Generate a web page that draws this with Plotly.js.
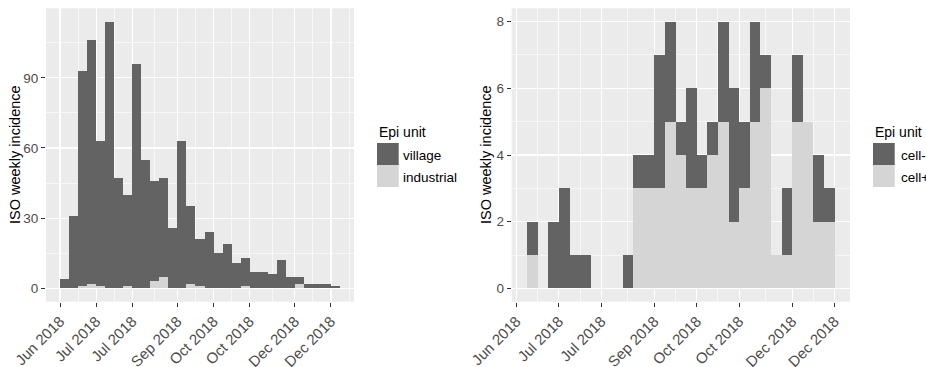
<!DOCTYPE html>
<html>
<head>
<meta charset="utf-8">
<script src="https://cdn.plot.ly/plotly-3.0.1.min.js"></script>
<style>
  html, body { margin: 0; padding: 0; background: #ffffff; }
  #chart { width: 926px; height: 367px; }
</style>
</head>
<body>
<div id="chart"></div>
<script>
// ---- Left panel: weekly incidence by epi unit (village / industrial) ----
const weeksA = [
  "2018-06-04","2018-06-11","2018-06-18","2018-06-25",
  "2018-07-02","2018-07-09","2018-07-16","2018-07-23","2018-07-30",
  "2018-08-06","2018-08-13","2018-08-20","2018-08-27",
  "2018-09-03","2018-09-10","2018-09-17","2018-09-24",
  "2018-10-01","2018-10-08","2018-10-15","2018-10-22","2018-10-29",
  "2018-11-05","2018-11-12","2018-11-19","2018-11-26",
  "2018-12-03","2018-12-10","2018-12-17","2018-12-24","2018-12-31"
];
const village    = [4,31,92,104,62,114,47,39,96,55,43,42,26,63,33,20,24,15,19,11,12,7,7,6,12,5,3,2,2,2,1];
const industrial = [0,0,1,2,1,0,0,1,0,0,3,5,0,0,2,1,0,0,0,0,1,0,0,0,0,0,2,0,0,0,0];

// ---- Right panel: weekly incidence by epi unit (cell- / cell+) ----
const weeksB = [
  "2018-06-11","2018-06-18","2018-06-25",
  "2018-07-02","2018-07-09","2018-07-16","2018-07-23","2018-07-30",
  "2018-08-06","2018-08-13","2018-08-20","2018-08-27",
  "2018-09-03","2018-09-10","2018-09-17","2018-09-24",
  "2018-10-01","2018-10-08","2018-10-15","2018-10-22","2018-10-29",
  "2018-11-05","2018-11-12","2018-11-19","2018-11-26",
  "2018-12-03","2018-12-10","2018-12-17","2018-12-24"
];
const cellNeg = [1,0,2,3,1,1,0,0,0,1,1,1,4,3,1,3,1,1,3,4,2,3,1,0,2,2,0,2,1];
const cellPos = [1,0,0,0,0,0,0,0,0,0,3,3,3,5,4,3,3,4,5,2,3,5,6,1,1,5,5,2,2];

// ---- Axis breaks and labels ----
const tickDates  = ["2018-06-04","2018-07-02","2018-07-30","2018-09-03","2018-10-01","2018-10-29","2018-12-03","2018-12-31"];
const tickLabels = ["Jun 2018","Jul 2018","Jul 2018","Sep 2018","Oct 2018","Oct 2018","Dec 2018","Dec 2018"];
const yTicksA = [0, 30, 60, 90];
const yTicksB = [0, 2, 4, 6, 8];

const legendTitle = "Epi unit";
const yTitle = "ISO weekly incidence";

// ---- Style ----
const DARK = "#636363";
const LIGHT = "#D5D5D5";
const PANEL = "#EBEBEB";
const FONT = "Liberation Sans, Arial, sans-serif";
const DAY = 86400000;
const W = 926, H = 367;

const t = s => new Date(s + "T00:00:00Z").getTime();
const iso = ms => new Date(ms).toISOString().slice(0, 19).replace("T", " ");

// Range with 5% padding on each side, as a ggplot continuous scale
function padRange(lo, hi) {
  const e = (hi - lo) * 0.05;
  return [lo - e, hi + e];
}
function dateRange(weeks) {
  const r = padRange(t(weeks[0]), t(weeks[weeks.length - 1]) + 7 * DAY);
  return [iso(r[0]), iso(r[1])];
}
// Minor breaks halfway between major breaks (plus one step beyond each end)
function minorDates(dates) {
  const ms = dates.map(t);
  const out = [];
  out.push(ms[0] - (ms[1] - ms[0]) / 2);
  for (let i = 0; i < ms.length - 1; i++) out.push((ms[i] + ms[i + 1]) / 2);
  const n = ms.length;
  out.push(ms[n - 1] + (ms[n - 1] - ms[n - 2]) / 2);
  return out.map(iso);
}
function minorNums(vals) {
  const out = [];
  for (let i = 0; i < vals.length - 1; i++) out.push((vals[i] + vals[i + 1]) / 2);
  out.push(vals[vals.length - 1] + (vals[1] - vals[0]) / 2);
  return out;
}

const barCommon = { type: "bar", width: 7 * DAY, offset: 0, hoverinfo: "skip" };

const data = [
  Object.assign({}, barCommon, { x: weeksA, y: industrial, xaxis: "x", yaxis: "y", marker: { color: LIGHT, line: { width: 0 } }, name: "industrial" }),
  Object.assign({}, barCommon, { x: weeksA, y: village, xaxis: "x", yaxis: "y", marker: { color: DARK, line: { width: 0 } }, name: "village" }),
  Object.assign({}, barCommon, { x: weeksB, y: cellPos, xaxis: "x2", yaxis: "y2", marker: { color: LIGHT, line: { width: 0 } }, name: "cell+" }),
  Object.assign({}, barCommon, { x: weeksB, y: cellNeg, xaxis: "x2", yaxis: "y2", marker: { color: DARK, line: { width: 0 } }, name: "cell-" })
];

const tickFontX = { family: FONT, size: 15, color: "#4D4D4D" };
const tickFontY = { family: FONT, size: 13.5, color: "#4D4D4D" };
const gridMinor = (vals) => ({ tickmode: "array", tickvals: vals, showgrid: true, gridcolor: "#FFFFFF", gridwidth: 0.6, ticks: "" });

function xAxis(domain, anchor, weeks) {
  return {
    domain: domain, anchor: anchor, type: "date",
    range: dateRange(weeks),
    tickmode: "array", tickvals: tickDates, ticktext: tickLabels, tickangle: -45,
    ticks: "outside", ticklen: 4, tickwidth: 1, tickcolor: "#333333",
    tickfont: tickFontX,
    showgrid: true, gridcolor: "#FFFFFF", gridwidth: 1.2,
    minor: gridMinor(minorDates(tickDates)),
    showline: false, zeroline: false, fixedrange: true
  };
}
function yAxis(domain, anchor, maxVal, ticks) {
  return {
    domain: domain, anchor: anchor,
    range: padRange(0, maxVal),
    tickmode: "array", tickvals: ticks,
    ticks: "outside", ticklen: 4, tickwidth: 1, tickcolor: "#333333",
    tickfont: tickFontY,
    showgrid: true, gridcolor: "#FFFFFF", gridwidth: 1.2,
    minor: gridMinor(minorNums(ticks)),
    showline: false, zeroline: false, fixedrange: true
  };
}

const totalsA = village.map((v, i) => v + industrial[i]);
const totalsB = cellNeg.map((v, i) => v + cellPos[i]);

const px = x => x / W;
const py = y => 1 - y / H;
const yDom = [py(301.7), py(8.3)];

// Legend (title, keys, labels) for one panel
function legendParts(x0, labelX, items) {
  const shapes = [], ann = [];
  ann.push({ xref: "paper", yref: "paper", x: px(x0), y: py(132), xanchor: "left", yanchor: "middle",
             text: legendTitle, showarrow: false, font: { family: FONT, size: 14, color: "#000000" } });
  items.forEach((it, i) => {
    const top = 143 + i * 22;
    shapes.push({ type: "rect", xref: "paper", yref: "paper", x0: px(x0), x1: px(x0 + 21.7),
                  y0: py(top + 22), y1: py(top), fillcolor: it.color, line: { width: 0 } });
    ann.push({ xref: "paper", yref: "paper", x: px(labelX), y: py(top + 12), xanchor: "left", yanchor: "middle",
               text: it.label, showarrow: false, font: { family: FONT, size: 13.5, color: "#000000" } });
  });
  return { shapes, ann };
}
const legA = legendParts(377, 401, [{ label: "village", color: DARK }, { label: "industrial", color: LIGHT }]);
const legB = legendParts(873, 899, [{ label: "cell-", color: DARK }, { label: "cell+", color: LIGHT }]);

const titleAnn = (x) => ({ xref: "paper", yref: "paper", x: px(x), y: py(155), xanchor: "center", yanchor: "middle",
  text: yTitle, textangle: -90, showarrow: false, font: { family: FONT, size: 14.5, color: "#000000" } });

const layout = {
  width: W, height: H,
  margin: { l: 0, r: 0, t: 0, b: 0 },
  paper_bgcolor: "#FFFFFF", plot_bgcolor: PANEL,
  barmode: "stack", bargap: 0,
  showlegend: false,
  font: { family: FONT },
  xaxis: xAxis([px(46), px(354)], "y", weeksA),
  yaxis: yAxis(yDom, "x", Math.max(...totalsA), yTicksA),
  xaxis2: xAxis([px(511.7), px(850)], "y2", weeksB),
  yaxis2: yAxis(yDom, "x2", Math.max(...totalsB), yTicksB),
  shapes: legA.shapes.concat(legB.shapes),
  annotations: [titleAnn(15), titleAnn(486)].concat(legA.ann, legB.ann)
};

Plotly.newPlot("chart", data, layout, { displayModeBar: false, staticPlot: true });
</script>
</body>
</html>
